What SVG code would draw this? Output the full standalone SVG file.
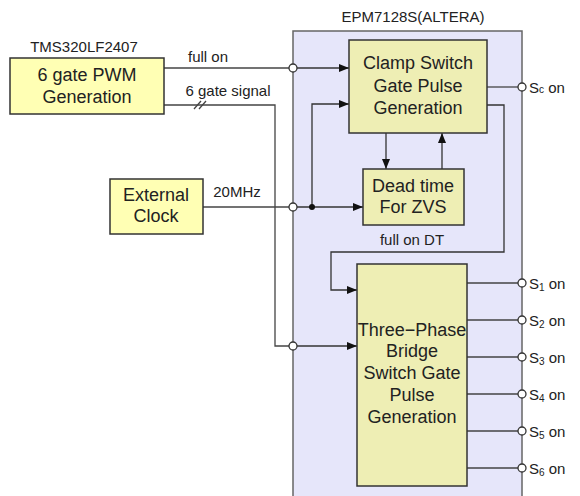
<svg xmlns="http://www.w3.org/2000/svg" width="580" height="496" viewBox="0 0 580 496">
<defs>
<style>
text{font-family:"Liberation Sans",Arial,sans-serif;fill:#222;}
.t{font-size:18px;text-anchor:middle;}
.s{font-size:15px;}
.c{text-anchor:middle;}
.ob{fill:#FFFFB4;stroke:#333;stroke-width:1.5;}
.ib{fill:#EEEEB4;stroke:#333;stroke-width:1.5;}
.w{fill:none;stroke:#444;stroke-width:1.3;}
.a{fill:none;stroke:#333;stroke-width:1.3;marker-end:url(#ah);}
.o{fill:#fff;stroke:#333;stroke-width:1.3;}
.sub{font-size:10px;}
</style>
<marker id="ah" viewBox="0 0 10 8" refX="10" refY="4" markerWidth="10" markerHeight="8" markerUnits="userSpaceOnUse" orient="auto">
<path d="M0,0 L10,4 L0,8 Z" fill="#111"/>
</marker>
</defs>
<rect width="580" height="496" fill="#fff"/>
<g id="epm">
<rect x="293" y="31" width="229" height="475" fill="#E6E6FA" stroke="#666" stroke-width="1.5"/>
<text class="s c" x="413" y="22">EPM7128S(ALTERA)</text>
</g>
<g id="connectors">
<path class="w" d="M164,68 H289"/>
<path class="a" d="M297,68 H349"/>
<path class="w" d="M164,105 H275 V346 H289"/>
<path class="w" d="M194,109 L201,101 M199,109 L206,101"/>
<path class="a" d="M297,346 H357"/>
<path class="w" d="M203,207 H289"/>
<path class="a" d="M297,207 H363"/>
<path class="a" d="M312,207 V104 H349"/>
<path class="a" d="M386,133 V169"/>
<path class="a" d="M442,169 V133"/>
<path class="a" d="M487,105 H504 V252 H331 V290 H357"/>
<path class="w" d="M487,87 H518"/>
<path class="w" d="M467,283 H518 M467,320 H518 M467,357 H518 M467,394 H518 M467,431 H518 M467,468 H518"/>
<circle cx="312" cy="207" r="3" fill="#111"/>
<circle class="o" cx="293" cy="68" r="4"/>
<circle class="o" cx="293" cy="207" r="4"/>
<circle class="o" cx="293" cy="346" r="4"/>
<circle class="o" cx="522" cy="87" r="4"/>
<circle class="o" cx="522" cy="283" r="4"/>
<circle class="o" cx="522" cy="320" r="4"/>
<circle class="o" cx="522" cy="357" r="4"/>
<circle class="o" cx="522" cy="394" r="4"/>
<circle class="o" cx="522" cy="431" r="4"/>
<circle class="o" cx="522" cy="468" r="4"/>
<text class="s c" x="208" y="62">full on</text>
<text class="s c" x="228" y="96">6 gate signal</text>
<text class="s c" x="237" y="197">20MHz</text>
<text class="s c" x="412" y="245">full on DT</text>
<text class="s" x="529" y="93">S<tspan class="sub">c</tspan> on</text>
<text class="s" x="529" y="289">S<tspan class="sub" dy="2">1</tspan><tspan dy="-2"> on</tspan></text>
<text class="s" x="529" y="326">S<tspan class="sub" dy="2">2</tspan><tspan dy="-2"> on</tspan></text>
<text class="s" x="529" y="363">S<tspan class="sub" dy="2">3</tspan><tspan dy="-2"> on</tspan></text>
<text class="s" x="529" y="400">S<tspan class="sub" dy="2">4</tspan><tspan dy="-2"> on</tspan></text>
<text class="s" x="529" y="437">S<tspan class="sub" dy="2">5</tspan><tspan dy="-2"> on</tspan></text>
<text class="s" x="529" y="474">S<tspan class="sub" dy="2">6</tspan><tspan dy="-2"> on</tspan></text>
</g>
<g id="pwm">
<text class="s c" x="84" y="52">TMS320LF2407</text>
<rect class="ob" x="10" y="58" width="154" height="56"/>
<text class="t" x="87" y="81">6 gate PWM</text>
<text class="t" x="87" y="103">Generation</text>
</g>
<g id="clock">
<rect class="ob" x="110" y="179" width="93" height="55"/>
<text class="t" x="156" y="201">External</text>
<text class="t" x="156" y="222">Clock</text>
</g>
<g id="clamp">
<rect class="ib" x="349" y="40" width="138" height="93"/>
<text class="t" x="418" y="69">Clamp Switch</text>
<text class="t" x="418" y="92">Gate Pulse</text>
<text class="t" x="418" y="114">Generation</text>
</g>
<g id="deadtime">
<rect class="ib" x="363" y="169" width="101" height="56"/>
<text class="t" x="413" y="192">Dead time</text>
<text class="t" x="413" y="213">For ZVS</text>
</g>
<g id="bridge">
<rect class="ib" x="357" y="264" width="110" height="222"/>
<text class="t" x="412" y="336">Three−Phase</text>
<text class="t" x="412" y="357">Bridge</text>
<text class="t" x="412" y="379">Switch Gate</text>
<text class="t" x="412" y="401">Pulse</text>
<text class="t" x="412" y="423">Generation</text>
</g>
</svg>
